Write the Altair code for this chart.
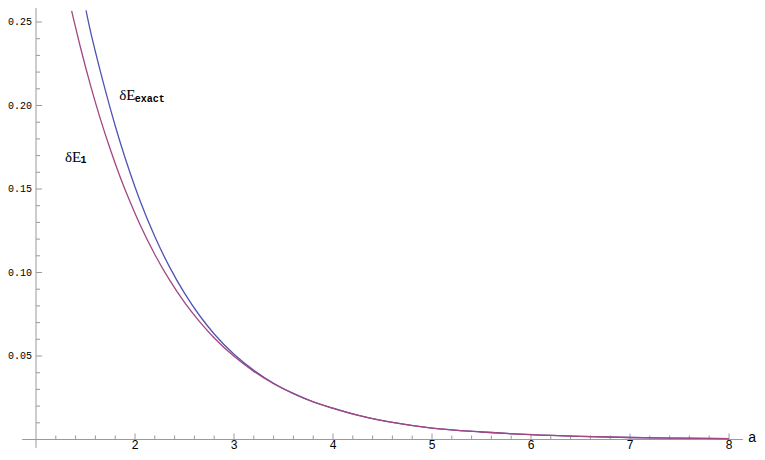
import altair as alt
import pandas as pd

# ---- data ----
a_e1 = [1.36, 1.45, 1.55, 1.65, 1.75, 1.85, 1.95, 2.05, 2.2, 2.35, 2.5, 2.65, 2.8, 3.0,
        3.2, 3.4, 3.6, 3.8, 4.0, 4.3, 4.6, 5.0, 5.5, 6.0, 6.5, 7.0, 7.5, 8.0]
v_e1 = [0.2567, 0.2346, 0.2122, 0.1920, 0.1738, 0.1572, 0.1423, 0.1287, 0.1108, 0.0954,
        0.0821, 0.0707, 0.0608, 0.0498, 0.0408, 0.0334, 0.0274, 0.0225, 0.0187, 0.0138,
        0.0102, 0.0068, 0.0045, 0.0029, 0.0019, 0.0012, 0.0008, 0.0005]

a_ex = [1.505, 1.55, 1.6, 1.65, 1.7, 1.75, 1.8, 1.85, 1.95, 2.05, 2.2, 2.35, 2.5, 2.65,
        2.8, 3.0, 3.2, 3.4, 3.6, 3.8, 4.0, 4.3, 4.6, 5.0, 5.5, 6.0, 6.5, 7.0, 7.5, 8.0]
v_ex = [0.257, 0.2445, 0.2322, 0.2204, 0.2092, 0.1983, 0.1879, 0.1780, 0.1597, 0.1431,
        0.1215, 0.1032, 0.0876, 0.0744, 0.0632, 0.0511, 0.0415, 0.0337, 0.0276, 0.0226,
        0.0188, 0.0138, 0.0102, 0.0068, 0.0045, 0.0029, 0.0019, 0.0012, 0.0008, 0.0005]

x_major = [2, 3, 4, 5, 6, 7, 8]
x_labels = ["2", "3", "4", "5", "6", "7", "8"]
y_major = [0.05, 0.10, 0.15, 0.20, 0.25]
y_labels = ["0.05", "0.10", "0.15", "0.20", "0.25"]
x_minor = [round(1 + 0.2 * i, 2) for i in range(1, 36) if i % 5 != 0]
y_minor = [round(0.01 * i, 2) for i in range(1, 27) if i % 5 != 0]

series_colors = ["#5252b4", "#a4467f"]
axis_color = "#9a9a9a"

# ---- layout (view origin is page pixel (8, 8)) ----
W, H = 749, 444
PX_A, X0 = 99.0, 28.0        # px per unit of a, view x of a=1
PX_V, Y0 = 1670.0, 431.5     # px per unit of value, view y of v=0
xs = alt.Scale(domain=[1 - X0 / PX_A, 1 + (W - X0) / PX_A], nice=False, zero=False)
ys = alt.Scale(domain=[-(H - Y0) / PX_V, Y0 / PX_V], nice=False, zero=False)
MAJ, MIN = 6.0, 4.0

df_ex = pd.DataFrame({"a": a_ex, "v": v_ex})
df_e1 = pd.DataFrame({"a": a_e1, "v": v_e1})

def curve(df, color):
    return alt.Chart(df).mark_line(color=color, strokeWidth=1.3, interpolate="monotone").encode(
        x=alt.X("a:Q", scale=xs, axis=None), y=alt.Y("v:Q", scale=ys, axis=None))

xaxis = alt.Chart(pd.DataFrame({"x": [0.86], "x2": [8.14], "y": [0.0]})).mark_rule(
    color=axis_color, strokeWidth=1).encode(x=alt.X("x:Q", scale=xs, axis=None), x2="x2:Q",
                                              y=alt.Y("y:Q", scale=ys, axis=None))
yaxis = alt.Chart(pd.DataFrame({"x": [1.0], "y": [-0.005], "y2": [0.2605]})).mark_rule(
    color=axis_color, strokeWidth=1).encode(x=alt.X("x:Q", scale=xs, axis=None),
                                              y=alt.Y("y:Q", scale=ys, axis=None), y2="y2:Q")

def xticks(vals, length):
    df = pd.DataFrame({"x": vals, "y": [0.0] * len(vals), "y2": [length / PX_V] * len(vals)})
    return alt.Chart(df).mark_rule(color=axis_color, strokeWidth=1).encode(
        x=alt.X("x:Q", scale=xs, axis=None), y=alt.Y("y:Q", scale=ys, axis=None), y2="y2:Q")

def yticks(vals, length):
    df = pd.DataFrame({"y": vals, "x": [1.0] * len(vals), "x2": [1 + length / PX_A] * len(vals)})
    return alt.Chart(df).mark_rule(color=axis_color, strokeWidth=1).encode(
        x=alt.X("x:Q", scale=xs, axis=None), x2="x2:Q", y=alt.Y("y:Q", scale=ys, axis=None))

xlab = alt.Chart(pd.DataFrame({"x": x_major, "t": x_labels})).mark_text(
    font="Liberation Mono", fontSize=12, color="#000000", baseline="bottom", align="center").encode(
    x=alt.X("x:Q", scale=xs, axis=None), y=alt.value(H - 0.5), text="t:N")
ylab = alt.Chart(pd.DataFrame({"y": y_major, "t": y_labels})).mark_text(
    font="Liberation Mono", fontSize=10, color="#000000", baseline="middle", align="right").encode(
    y=alt.Y("y:Q", scale=ys, axis=None), x=alt.value(24), text="t:N")

alabel = alt.Chart(pd.DataFrame({"t": ["a"]})).mark_text(
    font="Liberation Sans", fontSize=14, color="#000000", baseline="middle", align="right").encode(
    x=alt.value(W - 1), y=alt.value(Y0 - 1.5), text="t:N")

lab_main = alt.Chart(pd.DataFrame({"x": [1.841, 1.293], "y": [0.2030, 0.1663], "t": ["δE", "δE"]})).mark_text(
    font="Liberation Serif", fontSize=15, color="#000000", baseline="alphabetic", align="left").encode(
    x=alt.X("x:Q", scale=xs, axis=None), y=alt.Y("y:Q", scale=ys, axis=None), text="t:N")
lab_sub = alt.Chart(pd.DataFrame({"x": [1.997, 1.449], "y": [0.2021, 0.1653], "t": ["exact", "1"]})).mark_text(
    font="Liberation Mono", fontSize=10, fontWeight="bold", color="#000000", baseline="alphabetic",
    align="left").encode(
    x=alt.X("x:Q", scale=xs, axis=None), y=alt.Y("y:Q", scale=ys, axis=None), text="t:N")

chart = alt.layer(
    xaxis, yaxis, xticks(x_major, MAJ), xticks(x_minor, MIN), yticks(y_major, MAJ), yticks(y_minor, MIN),
    curve(df_ex, series_colors[0]), curve(df_e1, series_colors[1]),
    xlab, ylab, alabel, lab_main, lab_sub,
).properties(
    width=W, height=H, padding=0, autosize=alt.AutoSizeParams(type="none"), background="white"
).configure_view(stroke=None)

chart.save("out.html", embed_options={"renderer": "svg", "actions": False})
